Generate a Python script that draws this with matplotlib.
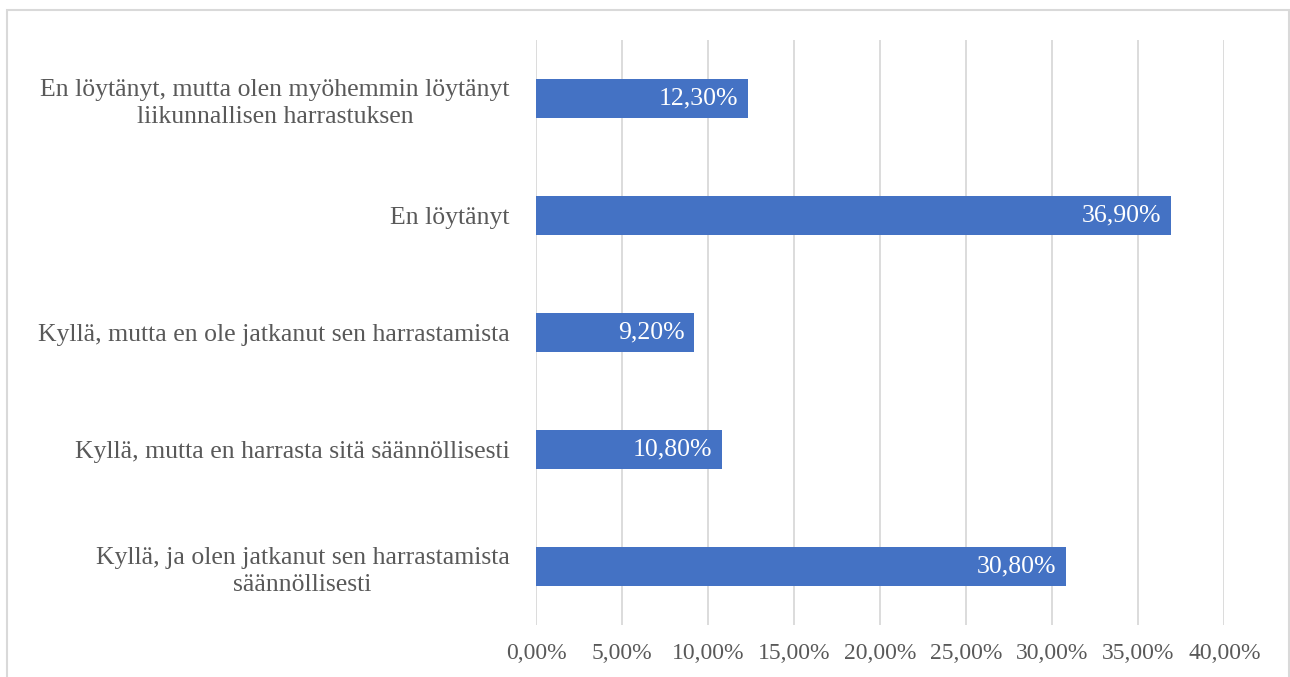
import matplotlib
matplotlib.use('Agg')
import matplotlib.pyplot as plt
from matplotlib.patches import Rectangle

# data (top to bottom as shown)
categories = [
    'En löytänyt, mutta olen myöhemmin löytänyt\nliikunnallisen harrastuksen',
    'En löytänyt',
    'Kyllä, mutta en ole jatkanut sen harrastamista',
    'Kyllä, mutta en harrasta sitä säännöllisesti',
    'Kyllä, ja olen jatkanut sen harrastamista\nsäännöllisesti',
]
values = [12.3, 36.9, 9.2, 10.8, 30.8]
xticks = [0, 5, 10, 15, 20, 25, 30, 35, 40]

plt.rcParams['font.family'] = ['Liberation Serif', 'DejaVu Serif']
text_color = '#595959'
bar_color = '#4472C4'
grid_color = '#D9D9D9'

fig = plt.figure(figsize=(12.9, 6.77), dpi=100)
ax = fig.add_axes([0.4155, 0.0768, 0.9492 - 0.4155, 0.9409 - 0.0768])

y = list(range(len(categories)))
bars = ax.barh(y, values, height=0.34, color=bar_color, zorder=3)

for yi, v in zip(y, values):
    label = f'{v:.2f}%'.replace('.', ',')
    ax.annotate(label, xy=(v, yi), xytext=(-7, 0), textcoords='offset points',
                ha='right', va='center', color='white', fontsize=18.5, zorder=4)

ax.set_ylim(len(categories) - 0.5, -0.5)
ax.set_xlim(0, 40)
ax.set_xticks(xticks)
ax.set_xticklabels([f'{t:.2f}%'.replace('.', ',') for t in xticks])
ax.set_yticks(y)
ax.set_yticklabels(categories)
for lbl in ax.get_yticklabels():
    lbl.set_multialignment('center')
    lbl.set_linespacing(1.3)
    lbl.set_fontsize(18.5)

ax.tick_params(axis='both', length=0, colors=text_color)
ax.tick_params(axis='x', labelsize=17, pad=13)
ax.tick_params(axis='y', pad=19)
ax.grid(axis='x', color=grid_color, linewidth=1.3, zorder=0)
ax.grid(axis='y', visible=False)
for s in ax.spines.values():
    s.set_visible(False)

# outer chart border
fig.patches.append(Rectangle((7 / 1290, -0.1), 1282 / 1290, 1.1 - 10 / 677,
                             transform=fig.transFigure, fill=False,
                             edgecolor=grid_color, linewidth=1.5))

fig.savefig('out.png', dpi=100)
plt.close(fig)
